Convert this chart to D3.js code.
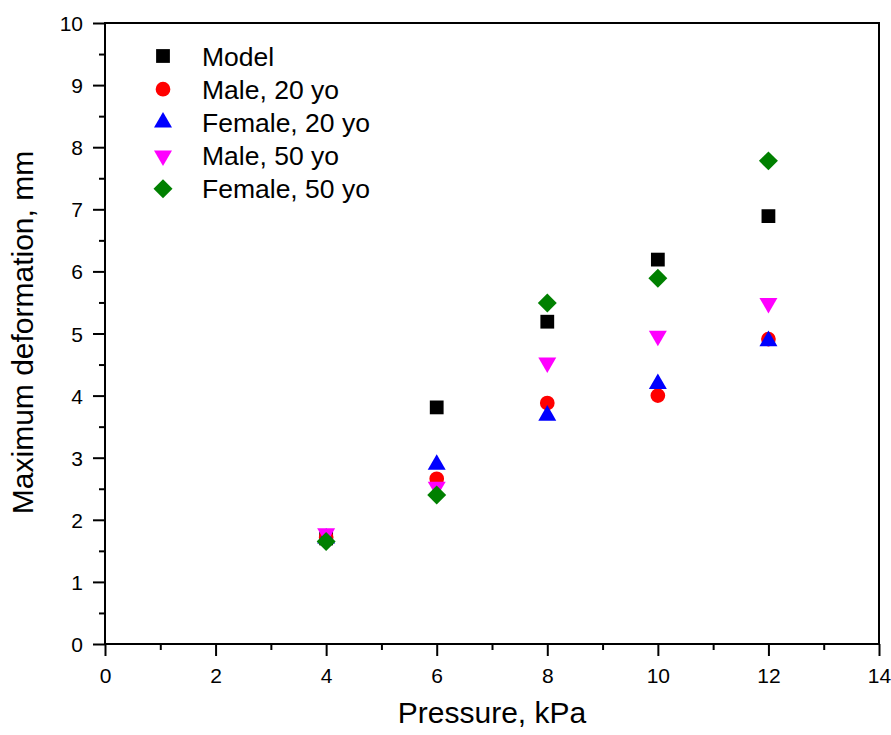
<!DOCTYPE html>
<html>
<head>
<meta charset="utf-8">
<script src="https://cdn.jsdelivr.net/npm/d3@7"></script>
<style>
  body { margin: 0; background: #fff; }
  text { font-family: "Liberation Sans", Arial, sans-serif; fill: #000; }
</style>
</head>
<body>
<div id="chart"></div>
<script>
// pressure, kPa
const pressure = [4, 6, 8, 10, 12]
// maximum deformation, mm
const model    = [1.70, 3.81, 5.19, 6.19, 6.89]
const male20   = [1.72, 2.66, 3.88, 4.00, 4.91]
const female20 = [1.70, 2.89, 3.68, 4.19, 4.88]
const male50   = [1.78, 2.53, 4.53, 4.96, 5.49]
const female50 = [1.65, 2.40, 5.49, 5.89, 7.78]

const seriesNames = ['Model', 'Male, 20 yo', 'Female, 20 yo', 'Male, 50 yo', 'Female, 50 yo']
const xTicks = [0, 2, 4, 6, 8, 10, 12, 14]
const yTicks = [0, 1, 2, 3, 4, 5, 6, 7, 8, 9, 10]

const series = [
  { name: seriesNames[0], values: model,    color: '#000000', shape: 'square' },
  { name: seriesNames[1], values: male20,   color: '#ff0000', shape: 'circle' },
  { name: seriesNames[2], values: female20, color: '#0000ff', shape: 'up' },
  { name: seriesNames[3], values: male50,   color: '#ff00ff', shape: 'down' },
  { name: seriesNames[4], values: female50, color: '#008000', shape: 'diamond' }
]

const W = 891, H = 735
const margin = { top: 23, right: 12, bottom: 91, left: 105 }
const width = W - margin.left - margin.right,
  height = H - margin.top - margin.bottom

const svg = d3.select('#chart').append('svg')
    .attr('width', W)
    .attr('height', H)

const g = svg.append('g')
    .attr('transform', 'translate(' + margin.left + ',' + margin.top + ')')

const x = d3.scaleLinear().domain([0, 14]).range([0, width])
const y = d3.scaleLinear().domain([0, 10]).range([height, 0])

// frame
g.append('rect')
    .attr('width', width).attr('height', height)
    .attr('fill', 'none').attr('stroke', '#000').attr('stroke-width', 2)

// minor ticks
g.append('g')
    .attr('transform', 'translate(0,' + height + ')')
    .call(d3.axisBottom(x).tickValues(d3.range(1, 14, 2)).tickSize(6).tickFormat(''))
g.append('g')
    .call(d3.axisLeft(y).tickValues(d3.range(0.5, 10, 1)).tickSize(6).tickFormat(''))

// major ticks
const xAxis = g.append('g')
    .attr('transform', 'translate(0,' + height + ')')
    .call(d3.axisBottom(x).tickValues(xTicks).tickSize(12).tickFormat(d3.format('d')))
xAxis.selectAll('text').attr('y', 39).attr('dy', null)

const yAxis = g.append('g')
    .call(d3.axisLeft(y).tickValues(yTicks).tickSize(12).tickFormat(d3.format('d')))
yAxis.selectAll('text').attr('x', -22).attr('dy', '0.36em')

g.selectAll('.domain').remove()
g.selectAll('.tick line').attr('stroke', '#000').attr('stroke-width', 2)
g.selectAll('.tick text')
    .style('font-size', '21px')
    .style('font-family', '"Liberation Sans", Arial, sans-serif')
    .attr('fill', '#000')

// axis titles
svg.append('text')
    .attr('x', margin.left + x(7))
    .attr('y', 723)
    .attr('text-anchor', 'middle')
    .style('font-size', '30px')
    .text('Pressure, kPa')

svg.append('text')
    .attr('transform', 'translate(33,' + (margin.top + height / 2 - 1) + ') rotate(-90)')
    .attr('text-anchor', 'middle')
    .style('font-size', '30px')
    .text('Maximum deformation, mm')

function symbolPath (shape) {
  if (shape === 'square') return d3.symbol(d3.symbolSquare, 190)()
  if (shape === 'circle') return d3.symbol(d3.symbolCircle, 170)()
  if (shape === 'up') return d3.symbol(d3.symbolTriangle, 140)()
  if (shape === 'down') return d3.symbol(d3.symbolTriangle, 140)()
  if (shape === 'diamond') return d3.symbol(d3.symbolSquare, 180)()
}
function symbolRotate (shape) {
  if (shape === 'down') return ' rotate(180)'
  if (shape === 'diamond') return ' rotate(45)'
  return ''
}

// points
series.forEach(s => {
  g.append('g').selectAll('path')
    .data(s.values)
    .enter()
    .append('path')
      .attr('d', symbolPath(s.shape))
      .attr('transform', (d, i) => 'translate(' + x(pressure[i]) + ',' + y(d) + ')' + symbolRotate(s.shape))
      .attr('fill', s.color)
})

// legend
const legend = svg.append('g')
const row = legend.selectAll('g')
    .data(series)
    .enter()
    .append('g')
      .attr('transform', (d, i) => 'translate(163,' + (56 + i * 33.2) + ')')

row.append('path')
    .attr('d', d => symbolPath(d.shape))
    .attr('transform', d => symbolRotate(d.shape).trim() || null)
    .attr('fill', d => d.color)

row.append('text')
    .attr('x', 39)
    .attr('dy', '0.36em')
    .style('font-size', '26.5px')
    .text(d => d.name)
</script>
</body>
</html>
